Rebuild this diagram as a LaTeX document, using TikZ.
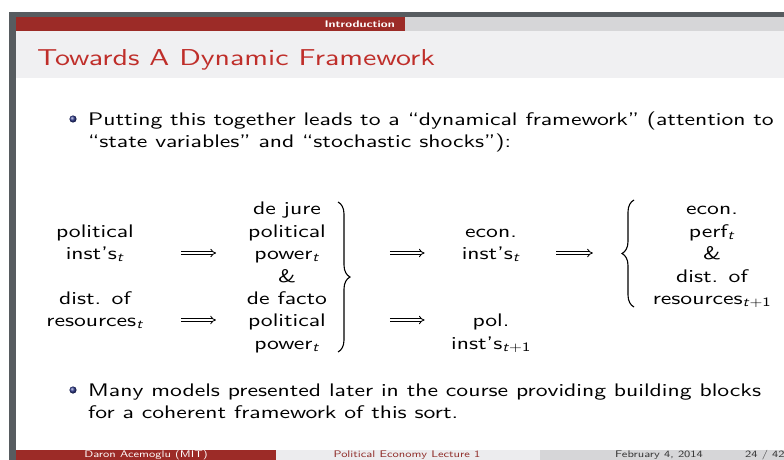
\documentclass[tikz,border=0pt]{standalone}
\usepackage{fontspec}
\setmainfont{lmsans10-regular.otf}[FakeStretch=1.30, BoldFont=lmsans10-bold.otf, ItalicFont=lmsans10-oblique.otf]
\usetikzlibrary{arrows.meta, positioning, decorations.pathreplacing}
\definecolor{framegray}{HTML}{575C60}
\definecolor{headred}{HTML}{9C2B27}
\definecolor{headgray}{HTML}{D6D6D8}
\definecolor{titlebg}{HTML}{F0F0F2}
\definecolor{footlight}{HTML}{ECECEE}
\definecolor{titlered}{HTML}{BF2E2A}
\definecolor{footred}{HTML}{8E2A26}
\definecolor{bulletblue}{HTML}{2E3A8C}
\newcommand{\bodysize}{\fontsize{18.2}{22}\selectfont}
\newcommand{\titlesize}{\fontsize{23}{28}\selectfont}
\newcommand{\tinysize}{\fontsize{9.6}{11}\selectfont}
\newcommand{\tsub}[1]{\textsubscript{\textit{#1}}}

\begin{document}
\begin{tikzpicture}[x=1pt, y=-1pt,
    cell/.style={font=\bodysize, inner sep=0pt, anchor=base},
    imp/.style={double, double distance=2pt, line width=0.85pt, -{Implies}},
    curly/.style={decorate, decoration={brace, amplitude=12pt}, line width=1.1pt}]
    \useasboundingbox (0,0) rectangle (784,460);
    \fill[white] (0,0) rectangle (784,460);

    % moldura do slide
    \fill[framegray] (9,12) rectangle (784,460);
    \fill[headred] (16,17) rectangle (405,31);
    \fill[headgray] (405,17) rectangle (784,31);
    \fill[titlebg] (16,31) rectangle (784,78);
    \fill[white] (16,78) rectangle (784,450);
    \fill[headred] (16,450) rectangle (276,460);
    \fill[footlight] (276,450) rectangle (540,460);
    \fill[headgray] (540,450) rectangle (784,460);

    \node[white, font=\tinysize\bfseries, inner sep=0pt, anchor=base east] (sec) at (395,27.5) {Introduction};
    \node[titlered, font=\titlesize, inner sep=0pt, anchor=base west] (title) at (37,66) {Towards A Dynamic Framework};

    % primeiro item
    \shade[ball color=bulletblue] (73,119) circle (3.6);
    \node[cell, anchor=base west] (p1a) at (88,125) {Putting this together leads to a “dynamical framework” (attention to};
    \node[cell, anchor=base west] (p1b) at (88,147) {“state variables” and “stochastic shocks”):};

    % coluna 1
    \node[cell] (pol1) at (95,237) {political};
    \node[cell] (inst) at (95,259) {inst's\tsub{t}};
    \node[cell] (dist) at (95,304) {dist. of};
    \node[cell] (res) at (95,326) {resources\tsub{t}};

    % coluna 2
    \node[cell] (jure) at (287,214) {de jure};
    \node[cell] (jpol) at (287,237) {political};
    \node[cell] (jpow) at (287,259) {power\tsub{t}};
    \node[cell] (amp1) at (287,282) {\&};
    \node[cell] (facto) at (287,304) {de facto};
    \node[cell] (fpol) at (287,326) {political};
    \node[cell] (fpow) at (287,349) {power\tsub{t}};
    \draw[curly] (338,202) -- (338,352);

    % coluna 3
    \node[cell] (econ) at (491,237) {econ.};
    \node[cell] (einst) at (491,259) {inst's\tsub{t}};
    \node[cell] (pol) at (491,326) {pol.};
    \node[cell] (pinst) at (491,349) {inst's\textsubscript{\textit{t}+1}};

    % coluna 4
    \draw[curly] (634,307) -- (634,200);
    \node[cell] (econ2) at (712,214) {econ.};
    \node[cell] (perf) at (712,237) {perf\tsub{t}};
    \node[cell] (amp2) at (712,259) {\&};
    \node[cell] (dist2) at (712,282) {dist. of};
    \node[cell] (res2) at (712,304) {resources\textsubscript{\textit{t}+1}};

    % setas
    \draw[imp, shorten <=57pt, shorten >=38pt] ([yshift=6pt]inst.base east) -- ([yshift=6pt]jpow.base west);
    \draw[imp, shorten <=37pt, shorten >=32pt] ([yshift=6pt]res.base east) -- ([yshift=6pt]fpol.base west);
    \draw[imp, shorten <=70pt, shorten >=37pt] ([yshift=6pt]jpow.base east) -- ([yshift=6pt]einst.base west);
    \draw[imp, shorten <=70pt, shorten >=37pt] ([yshift=6pt]fpol.base east -| jpow.base east) -- ([yshift=6pt]pol.base west -| einst.base west);
    \draw[imp, shorten <=36pt, shorten >=110pt] ([yshift=6pt]einst.base east) -- ([yshift=6pt]amp2.base west);

    % segundo item
    \shade[ball color=bulletblue] (73,390) circle (3.6);
    \node[cell, anchor=base west] (p2a) at (88,396) {Many models presented later in the course providing building blocks};
    \node[cell, anchor=base west] (p2b) at (88,418) {for a coherent framework of this sort.};

    % rodape
    \node[white, font=\tinysize, inner sep=0pt, anchor=base] (author) at (146,457.5) {Daron Acemoglu (MIT)};
    \node[footred, font=\tinysize, inner sep=0pt, anchor=base] (talk) at (407,457.5) {Political Economy Lecture 1};
    \node[black!80, font=\tinysize, inner sep=0pt, anchor=base west] (date) at (615,457.5) {February 4, 2014};
    \node[black!80, font=\tinysize, inner sep=0pt, anchor=base west] (page) at (745,457.5) {24 / 42};
\end{tikzpicture}
\end{document}
